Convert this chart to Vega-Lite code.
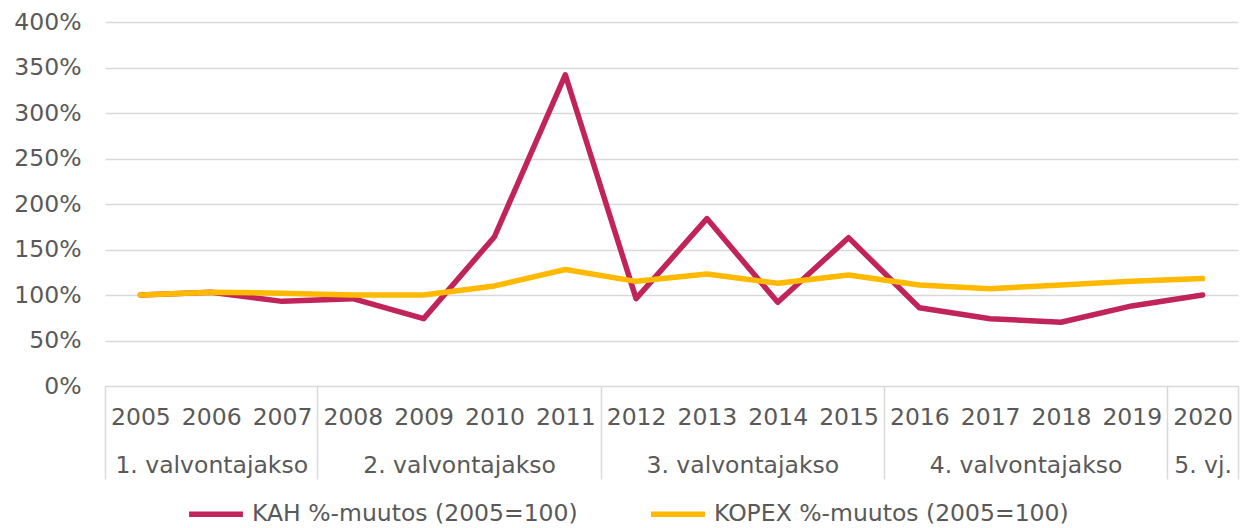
{
  "$schema": "https://vega.github.io/schema/vega-lite/v6.json",
  "width": 1133,
  "height": 364,
  "autosize": {"type": "none"},
  "padding": {"left": 105, "top": 22, "right": 10, "bottom": 142},
  "background": "white",
  "config": {
    "view": {"stroke": null},
    "font": "DejaVu Sans",
    "axis": {"labelFont": "DejaVu Sans", "labelFontSize": 23.5, "labelColor": "#595959", "labelLimit": 400},
    "legend": {"labelFont": "DejaVu Sans", "labelFontSize": 23.5, "labelColor": "#595959", "labelLimit": 600}
  },
  "datasets": {
    "series": [
      {"year": "2005", "series": "KAH %-muutos (2005=100)", "value": 1.00},
      {"year": "2006", "series": "KAH %-muutos (2005=100)", "value": 1.03},
      {"year": "2007", "series": "KAH %-muutos (2005=100)", "value": 0.93},
      {"year": "2008", "series": "KAH %-muutos (2005=100)", "value": 0.96},
      {"year": "2009", "series": "KAH %-muutos (2005=100)", "value": 0.74},
      {"year": "2010", "series": "KAH %-muutos (2005=100)", "value": 1.64},
      {"year": "2011", "series": "KAH %-muutos (2005=100)", "value": 3.42},
      {"year": "2012", "series": "KAH %-muutos (2005=100)", "value": 0.96},
      {"year": "2013", "series": "KAH %-muutos (2005=100)", "value": 1.84},
      {"year": "2014", "series": "KAH %-muutos (2005=100)", "value": 0.92},
      {"year": "2015", "series": "KAH %-muutos (2005=100)", "value": 1.63},
      {"year": "2016", "series": "KAH %-muutos (2005=100)", "value": 0.86},
      {"year": "2017", "series": "KAH %-muutos (2005=100)", "value": 0.74},
      {"year": "2018", "series": "KAH %-muutos (2005=100)", "value": 0.70},
      {"year": "2019", "series": "KAH %-muutos (2005=100)", "value": 0.88},
      {"year": "2020", "series": "KAH %-muutos (2005=100)", "value": 1.00},
      {"year": "2005", "series": "KOPEX %-muutos (2005=100)", "value": 1.00},
      {"year": "2006", "series": "KOPEX %-muutos (2005=100)", "value": 1.03},
      {"year": "2007", "series": "KOPEX %-muutos (2005=100)", "value": 1.02},
      {"year": "2008", "series": "KOPEX %-muutos (2005=100)", "value": 1.00},
      {"year": "2009", "series": "KOPEX %-muutos (2005=100)", "value": 1.00},
      {"year": "2010", "series": "KOPEX %-muutos (2005=100)", "value": 1.10},
      {"year": "2011", "series": "KOPEX %-muutos (2005=100)", "value": 1.28},
      {"year": "2012", "series": "KOPEX %-muutos (2005=100)", "value": 1.15},
      {"year": "2013", "series": "KOPEX %-muutos (2005=100)", "value": 1.23},
      {"year": "2014", "series": "KOPEX %-muutos (2005=100)", "value": 1.13},
      {"year": "2015", "series": "KOPEX %-muutos (2005=100)", "value": 1.22},
      {"year": "2016", "series": "KOPEX %-muutos (2005=100)", "value": 1.11},
      {"year": "2017", "series": "KOPEX %-muutos (2005=100)", "value": 1.07},
      {"year": "2018", "series": "KOPEX %-muutos (2005=100)", "value": 1.11},
      {"year": "2019", "series": "KOPEX %-muutos (2005=100)", "value": 1.15},
      {"year": "2020", "series": "KOPEX %-muutos (2005=100)", "value": 1.18}
    ],
    "bounds": [
      {"b": 0}, {"b": 3}, {"b": 7}, {"b": 11}, {"b": 15}, {"b": 16}
    ],
    "periods": [
      {"period": "1. valvontajakso", "mid": 1.5},
      {"period": "2. valvontajakso", "mid": 5},
      {"period": "3. valvontajakso", "mid": 9},
      {"period": "4. valvontajakso", "mid": 13},
      {"period": "5. vj.", "mid": 15.5}
    ]
  },
  "layer": [
    {
      "data": {"name": "series"},
      "mark": {"type": "line", "strokeWidth": 5.5, "strokeCap": "round", "strokeJoin": "round"},
      "encoding": {
        "x": {
          "field": "year", "type": "ordinal",
          "scale": {"type": "point", "padding": 0.5},
          "axis": {"orient": "bottom", "title": null, "labelAngle": 0, "ticks": false, "domain": false, "grid": false, "labelPadding": 31, "labelBaseline": "middle", "labelFlush": false}
        },
        "y": {
          "field": "value", "type": "quantitative",
          "scale": {"domain": [0, 4], "nice": false},
          "axis": {"title": null, "values": [0, 0.5, 1, 1.5, 2, 2.5, 3, 3.5, 4], "format": ".0%", "domain": false, "ticks": false, "labelPadding": 24, "gridColor": "#D9D9D9", "gridWidth": 1.5}
        },
        "color": {
          "field": "series", "type": "nominal",
          "scale": {"domain": ["KAH %-muutos (2005=100)", "KOPEX %-muutos (2005=100)"], "range": ["#C0245A", "#FFB900"]},
          "legend": {"title": null, "orient": "none", "direction": "horizontal", "legendX": 81, "legendY": 462, "symbolType": "stroke", "symbolStrokeWidth": 5.5, "symbolSize": 2900, "labelOffset": 6, "columnPadding": 62}
        }
      }
    },
    {
      "data": {"name": "bounds"},
      "mark": {"type": "point", "opacity": 0},
      "encoding": {
        "x": {
          "field": "b", "type": "quantitative",
          "scale": {"domain": [0, 16], "nice": false, "zero": false},
          "axis": {"orient": "bottom", "title": null, "values": [0, 3, 7, 11, 15, 16], "labels": false, "domain": false, "grid": false, "ticks": true, "tickSize": 93, "tickColor": "#D9D9D9", "tickWidth": 1.5}
        }
      }
    },
    {
      "data": {"name": "periods"},
      "mark": {"type": "point", "opacity": 0},
      "encoding": {
        "x": {
          "field": "mid", "type": "quantitative",
          "scale": {"domain": [0, 16], "nice": false, "zero": false},
          "axis": {"orient": "bottom", "title": null, "values": [1.5, 5, 9, 13, 15.5], "labelExpr": "datum.value == 1.5 ? '1. valvontajakso' : datum.value == 5 ? '2. valvontajakso' : datum.value == 9 ? '3. valvontajakso' : datum.value == 13 ? '4. valvontajakso' : '5. vj.'", "domain": false, "grid": false, "ticks": false, "labelPadding": 79, "labelBaseline": "middle", "labelFlush": false, "labelOverlap": false, "labelBound": false}
        }
      }
    }
  ],
  "resolve": {"scale": {"x": "independent"}, "axis": {"x": "independent"}}
}
